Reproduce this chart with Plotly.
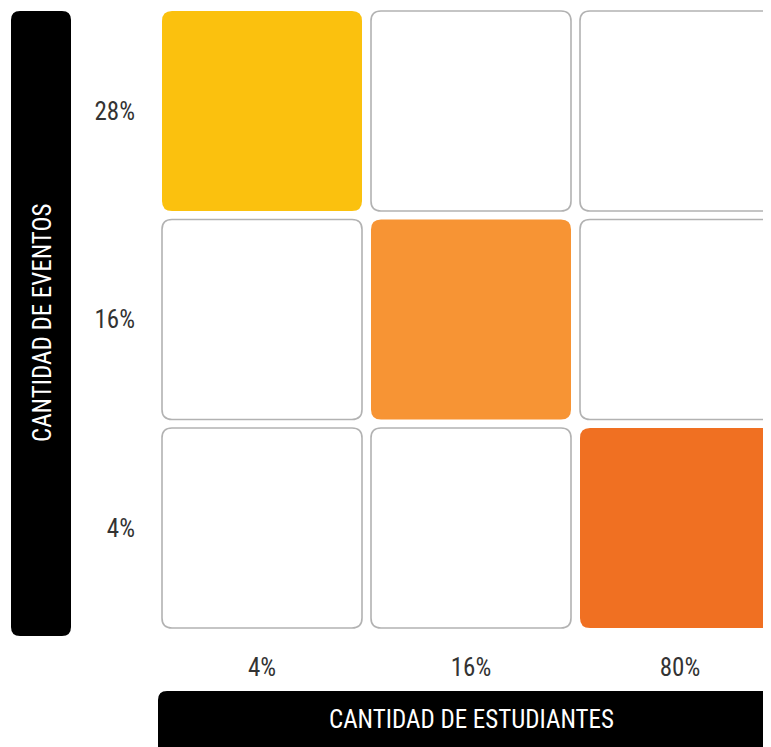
import plotly.graph_objects as go

# ---- data ----
estudiantes = ["4%", "16%", "80%"]          # x categories (Cantidad de estudiantes)
eventos = ["4%", "16%", "28%"]              # y categories (Cantidad de eventos)
highlight_x = ["4%", "16%", "80%"]
highlight_y = ["28%", "16%", "4%"]
highlight_color = ["#FBC10E", "#F79434", "#F07022"]
x_title = "CANTIDAD DE ESTUDIANTES"
y_title = "CANTIDAD DE EVENTOS"

# ---- layout constants ----
# the page body adds an 8px margin, so the figure is placed at (8, 8)
OFF = 8
W, H = 771 - OFF, 747 - OFF
PLOT_LEFT, PLOT_TOP, PLOT_BOTTOM = 158 - OFF, 0, 636 - OFF
L, R, T, B = PLOT_LEFT, 0, PLOT_TOP, H - PLOT_BOTTOM
PW, PH = W - L - R, H - T - B
PX_X, PX_Y = 209.0, 208.5          # pixels per category step
X0 = -104 / PX_X
Y0 = -108 / PX_Y
xr = [X0, X0 + PW / PX_X]
yr = [Y0, Y0 + PH / PX_Y]
HALF_X, HALF_Y = 100 / PX_X, 100 / PX_Y
RAD_X, RAD_Y = 10 / PX_X, 10 / PX_Y

FONT = "Roboto Condensed, Liberation Sans Narrow, DejaVu Sans Condensed, Roboto, sans-serif"


def rounded_path(x0, y0, x1, y1, rx, ry):
    return (f"M {x0+rx},{y0} L {x1-rx},{y0} Q {x1},{y0} {x1},{y0+ry} "
            f"L {x1},{y1-ry} Q {x1},{y1} {x1-rx},{y1} "
            f"L {x0+rx},{y1} Q {x0},{y1} {x0},{y1-ry} "
            f"L {x0},{y0+ry} Q {x0},{y0} {x0+rx},{y0} Z")


hl = {(hx, hy): c for hx, hy, c in zip(highlight_x, highlight_y, highlight_color)}

shapes = []
cx, cy = [], []
for i, xs in enumerate(estudiantes):
    for j, ys in enumerate(eventos):
        cx.append(i)
        cy.append(j)
        col = hl.get((xs, ys))
        path = rounded_path(i - HALF_X, j - HALF_Y, i + HALF_X, j + HALF_Y, RAD_X, RAD_Y)
        if col:
            shapes.append(dict(type="path", xref="x", yref="y", path=path,
                               fillcolor=col, line=dict(width=0), layer="above"))
        else:
            shapes.append(dict(type="path", xref="x", yref="y", path=path,
                               fillcolor="white", line=dict(color="#B2B2B2", width=1.6),
                               layer="above"))


def px_to_paper(px, py):
    # px, py are page pixels of the reference picture
    return (px - OFF - L) / PW, 1 - (py - OFF - T) / PH


def paper_rounded(x0p, y0p, x1p, y1p, r):
    ax0, ay0 = px_to_paper(x0p, y1p)
    ax1, ay1 = px_to_paper(x1p, y0p)
    return rounded_path(ax0, ay0, ax1, ay1, r / PW, r / PH)


# black title bars
shapes.append(dict(type="path", xref="paper", yref="paper",
                   path=paper_rounded(11, 11, 71, 636, 9), fillcolor="black", line=dict(width=0)))
shapes.append(dict(type="path", xref="paper", yref="paper",
                   path=paper_rounded(158, 691, 800, 790, 9), fillcolor="black", line=dict(width=0)))

fig = go.Figure()
fig.add_trace(go.Scatter(x=cx, y=cy, mode="markers", marker=dict(size=1, opacity=0),
                         hoverinfo="skip", showlegend=False))

annotations = [
    dict(text=y_title, xref="paper", yref="paper",
         x=px_to_paper(42, 0)[0], y=px_to_paper(0, 323)[1],
         textangle=-90, showarrow=False, xanchor="center", yanchor="middle",
         font=dict(family=FONT, size=25, color="white")),
    dict(text=x_title, xref="x", yref="paper",
         x=1, y=px_to_paper(0, 719)[1],
         showarrow=False, xanchor="center", yanchor="middle",
         font=dict(family=FONT, size=25, color="white")),
]

fig.update_layout(
    width=W, height=H,
    margin=dict(l=L, r=R, t=T, b=B, pad=0),
    paper_bgcolor="white", plot_bgcolor="white",
    shapes=shapes, annotations=annotations,
    showlegend=False,
    xaxis=dict(range=xr, tickvals=list(range(len(estudiantes))), ticktext=estudiantes,
               showgrid=False, zeroline=False, showline=False, ticks="",
               ticklabelstandoff=14,
               tickfont=dict(family=FONT, size=25, color="#333333"), fixedrange=True),
    yaxis=dict(range=yr, tickvals=list(range(len(eventos))), ticktext=eventos,
               showgrid=False, zeroline=False, showline=False, ticks="",
               ticklabelstandoff=22,
               tickfont=dict(family=FONT, size=25, color="#333333"), fixedrange=True),
)

fig.write_html("out.html")
